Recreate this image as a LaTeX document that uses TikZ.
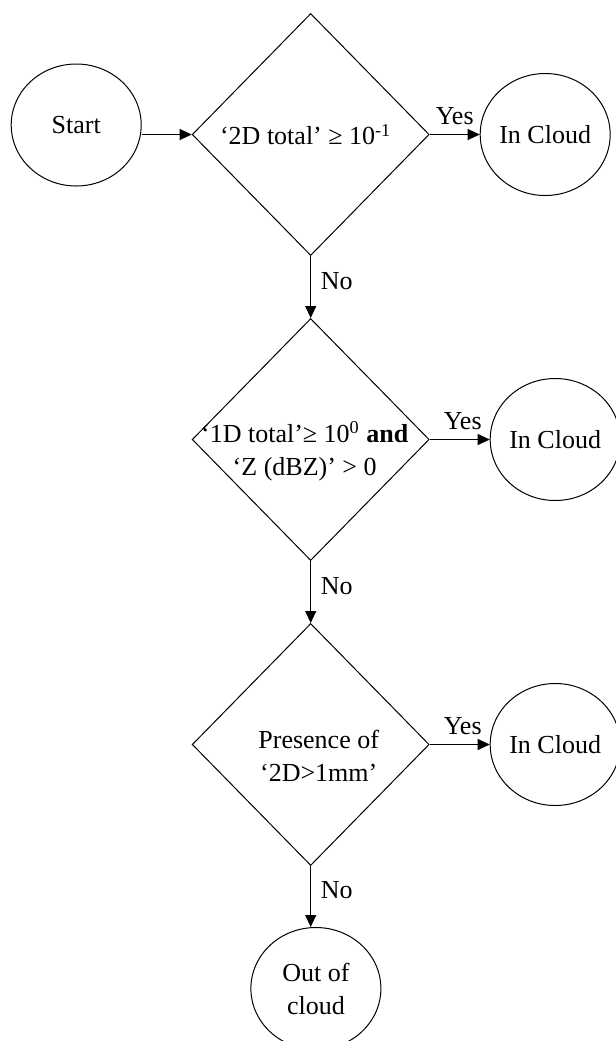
\documentclass[tikz,border=0pt]{standalone}
\usepackage{fontspec}
\setmainfont{Liberation Serif}
\usetikzlibrary{shapes.geometric,arrows.meta,positioning}

\begin{document}
\begin{tikzpicture}[
        x=0.5pt, y=-0.5pt,
        node distance=25pt,
        line width=0.5pt,
        font=\fontsize{13}{16.5}\selectfont,
        >={Triangle[length=6pt,width=5.5pt]},
        terminal/.style={ellipse, draw, minimum width=65pt, minimum height=61pt, inner sep=0pt, align=center},
        decision/.style={diamond, draw, minimum width=118.5pt, minimum height=121pt, inner sep=0pt},
        qtext/.style={align=center, inner sep=0pt},
        yeslabel/.style={above=3.5pt, inner sep=1pt},
        nolabel/.style={right=1.5pt, pos=0.4},
        ]
        \useasboundingbox (0,0) rectangle (616,1041);

        % Decisions
        \node[decision] (q1) at (310.7,134.5) {};
        \node[decision, below=31pt of q1] (q2) {};
        \node[decision, below=31pt of q2] (q3) {};

        \node[qtext, xshift=-2.5pt] (q1text) at (q1) {‘2D total’ ≥ 10\textsuperscript{-1}};
        \node[qtext, xshift=-3pt, yshift=-5.75pt] (q2text) at (q2) {‘1D total’≥ 10\textsuperscript{0} \textbf{and}\\‘Z (dBZ)’ > 0};
        \node[qtext, xshift=4pt, yshift=-5.5pt] (q3text) at (q3) {Presence of\\‘2D>1mm’};

        % Start and results
        \node[terminal, left=25pt of q1, yshift=4.75pt] (start) {Start};
        \node[terminal, right=25pt of q1] (cloud1) {In Cloud};
        \node[terminal, right=30pt of q2] (cloud2) {In Cloud};
        \node[terminal, right=30pt of q3] (cloud3) {In Cloud};
        \node[terminal, below=30.5pt of q3, xshift=2.6pt] (out) {Out of\\cloud};

        % Arrows
        \draw[->] (q1.west -| start.east) -- (q1.west);
        \draw[->] (q1) -- (cloud1) node[yeslabel, midway] {Yes};
        \draw[->] (q2) -- (cloud2) node[yeslabel, pos=0.55] {Yes};
        \draw[->] (q3) -- (cloud3) node[yeslabel, pos=0.55] {Yes};
        \draw[->] (q1) -- (q2) node[nolabel] {No};
        \draw[->] (q2) -- (q3) node[nolabel] {No};
        \draw[->] (q3.south) -- (q3.south |- out.north) node[nolabel] {No};

\end{tikzpicture}
\end{document}
